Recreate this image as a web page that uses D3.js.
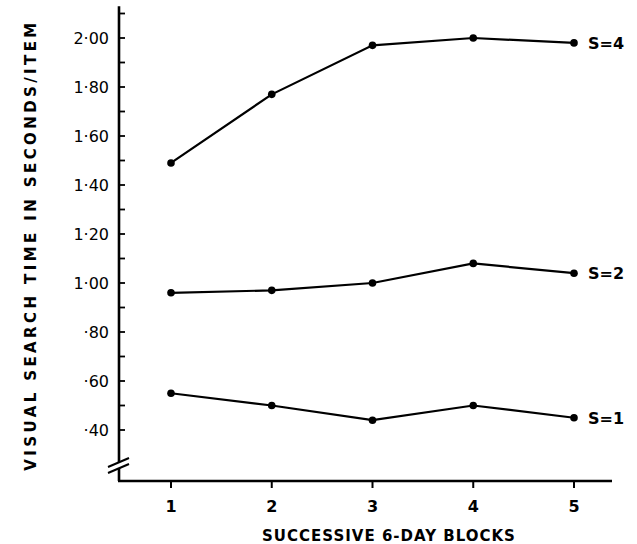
<!DOCTYPE html>
<html><head><meta charset="utf-8">
<script src="https://cdn.jsdelivr.net/npm/d3@7"></script>
<style>body{margin:0;background:#fff}svg{display:block}text{font-family:"DejaVu Sans",sans-serif;fill:#000}</style>
</head><body><svg id="c" width="637" height="544"></svg>
<script>
const blocks = [1, 2, 3, 4, 5];
const s4 = [1.49, 1.77, 1.97, 2.00, 1.98];
const s2 = [0.96, 0.97, 1.00, 1.08, 1.04];
const s1 = [0.55, 0.50, 0.44, 0.50, 0.45];
const seriesLabels = ["S=4", "S=2", "S=1"];
const yTickValues = [0.40, 0.60, 0.80, 1.00, 1.20, 1.40, 1.60, 1.80, 2.00];
const yTickLabels = ["·40", "·60", "·80", "1·00", "1·20", "1·40", "1·60", "1·80", "2·00"];
const xTitle = "SUCCESSIVE 6-DAY BLOCKS";
const yTitle = "VISUAL SEARCH TIME IN SECONDS/ITEM";

const svg = d3.select("#c");
const x = d3.scaleLinear().domain([1, 5]).range([171, 574]);
const y = d3.scaleLinear().domain([0.40, 2.00]).range([430, 38]);
const axisX = 119, baseY = 481;

svg.append("line").attr("x1", axisX).attr("x2", axisX).attr("y1", y(2.13)).attr("y2", baseY)
  .attr("stroke", "#000").attr("stroke-width", 2.6);
svg.append("line").attr("x1", axisX - 1).attr("x2", 612).attr("y1", baseY).attr("y2", baseY)
  .attr("stroke", "#000").attr("stroke-width", 2.6);
svg.append("rect").attr("x", axisX - 2).attr("y", 462).attr("width", 4).attr("height", 6).attr("fill", "#fff");
[0, 6].forEach(o => {
  svg.append("line").attr("x1", 108).attr("y1", 467 + o).attr("x2", 129).attr("y2", 458 + o)
    .attr("stroke", "#000").attr("stroke-width", 2);
});

const minor = d3.range(4, 22).map(d => d / 10);
svg.selectAll(".ytick").data(minor).enter().append("line")
  .attr("x1", axisX).attr("x2", axisX + 6).attr("y1", d => y(d)).attr("y2", d => y(d))
  .attr("stroke", "#000").attr("stroke-width", 1.8);
svg.selectAll(".ylab").data(yTickValues).enter().append("text")
  .attr("x", 109).attr("y", d => y(d)).attr("dy", "0.36em").attr("text-anchor", "end")
  .attr("font-size", 16).text((d, i) => yTickLabels[i]);

svg.selectAll(".xtick").data(blocks).enter().append("line")
  .attr("x1", d => x(d)).attr("x2", d => x(d)).attr("y1", baseY).attr("y2", baseY + 7)
  .attr("stroke", "#000").attr("stroke-width", 2);
svg.selectAll(".xlab").data(blocks).enter().append("text")
  .attr("x", d => x(d)).attr("y", 512).attr("text-anchor", "middle")
  .attr("font-size", 16).attr("font-weight", "bold").text(d => d);

svg.append("text").attr("x", 389).attr("y", 541).attr("text-anchor", "middle")
  .attr("font-size", 15).attr("font-weight", "bold").attr("letter-spacing", 1).text(xTitle);
svg.append("text").attr("transform", "translate(36,245) rotate(-90)").attr("text-anchor", "middle")
  .attr("font-size", 15).attr("font-weight", "bold").attr("letter-spacing", 3.4).text(yTitle);

const line = d3.line().x((d, i) => x(blocks[i])).y(d => y(d));
[s4, s2, s1].forEach((s, k) => {
  svg.append("path").attr("d", line(s)).attr("fill", "none").attr("stroke", "#000").attr("stroke-width", 2.2);
  svg.selectAll(".pt" + k).data(s).enter().append("circle")
    .attr("cx", (d, i) => x(blocks[i])).attr("cy", d => y(d)).attr("r", 3.8).attr("fill", "#000");
  svg.append("text").attr("x", x(5) + 14).attr("y", y(s[4])).attr("dy", "0.36em")
    .attr("font-size", 16).attr("font-weight", "bold").text(seriesLabels[k]);
});
</script></body></html>
